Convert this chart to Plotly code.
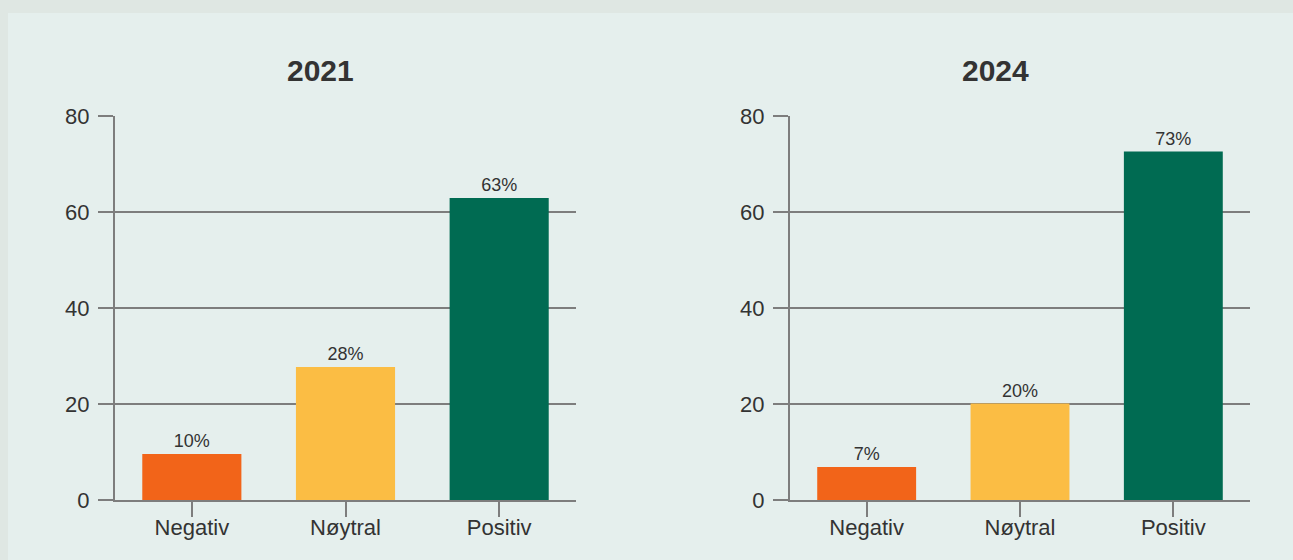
import plotly.graph_objects as go

W, H = 1293, 560

categories = ["Negativ", "Nøytral", "Positiv"]
values_2021 = [9.6, 27.7, 62.9]
labels_2021 = ["10%", "28%", "63%"]
values_2024 = [6.9, 20.1, 72.6]
labels_2024 = ["7%", "20%", "73%"]
bar_colors = ["#f26419", "#fbbd44", "#006b52"]
y_ticks = [0, 20, 40, 60, 80]
titles = ["2021", "2024"]

FONT = "Liberation Sans, Arial, sans-serif"
TXT = "#333333"
GRID = "#7d7d7d"
CLEAR = "rgba(0,0,0,0)"

fig = go.Figure()
fig.add_trace(go.Bar(x=categories, y=values_2021, text=labels_2021, textposition="outside",
                     marker=dict(color=bar_colors, line=dict(width=0)),
                     textfont=dict(size=18, color=TXT, family=FONT), cliponaxis=False,
                     xaxis="x", yaxis="y", hoverinfo="skip"))
fig.add_trace(go.Bar(x=categories, y=values_2024, text=labels_2024, textposition="outside",
                     marker=dict(color=bar_colors, line=dict(width=0)),
                     textfont=dict(size=18, color=TXT, family=FONT), cliponaxis=False,
                     xaxis="x2", yaxis="y2", hoverinfo="skip"))

ydom = [(H - 500) / H, (H - 116) / H]
xdoms = [[115 / W, 576 / W], [790 / W, 1250 / W]]

def xa(dom, anchor):
    return dict(domain=dom, anchor=anchor, showgrid=False, showline=True, linecolor=GRID, linewidth=2,
                ticks="outside", ticklen=7, tickwidth=2, tickcolor=CLEAR, automargin=False,
                minor=dict(ticks="outside", tickvals=categories, ticklen=15, tickwidth=2,
                           tickcolor=GRID, showgrid=False),
                tickfont=dict(size=22, color=TXT, family=FONT), fixedrange=True)

def ya(anchor):
    return dict(domain=ydom, anchor=anchor, range=[0, 80], tickvals=y_ticks, showgrid=True,
                gridcolor=GRID, gridwidth=2, showline=True, linecolor=GRID, linewidth=2,
                zeroline=False, ticks="outside", ticklen=19, tickwidth=2, tickcolor=CLEAR, automargin=False,
                minor=dict(ticks="outside", tickvals=y_ticks, ticklen=15, tickwidth=2,
                           tickcolor=GRID, showgrid=False),
                tickfont=dict(size=22, color=TXT, family=FONT), fixedrange=True)

fig.update_layout(
    width=W, height=H, margin=dict(l=0, r=0, t=0, b=0, pad=0, autoexpand=False),
    paper_bgcolor="#dfe7e3", plot_bgcolor="rgba(0,0,0,0)",
    showlegend=False, bargap=0.355,
    xaxis=xa(xdoms[0], "y"), yaxis=ya("x"),
    xaxis2=xa(xdoms[1], "y2"), yaxis2=ya("x2"),
    shapes=[dict(type="rect", xref="paper", yref="paper", x0=8 / W, x1=1, y0=0, y1=(H - 13) / H,
                 fillcolor="#e5efed", line=dict(width=0), layer="below")],
    annotations=[
        dict(text="<b>%s</b>" % titles[0], x=320 / W, y=(H - 70) / H, xref="paper", yref="paper",
             showarrow=False, font=dict(size=30, color=TXT, family=FONT), xanchor="center", yanchor="middle"),
        dict(text="<b>%s</b>" % titles[1], x=995 / W, y=(H - 70) / H, xref="paper", yref="paper",
             showarrow=False, font=dict(size=30, color=TXT, family=FONT), xanchor="center", yanchor="middle"),
    ],
)

fig.write_html("out.html", config={"displayModeBar": False},
               post_script="document.body.style.margin='0';document.body.style.overflow='hidden';")
